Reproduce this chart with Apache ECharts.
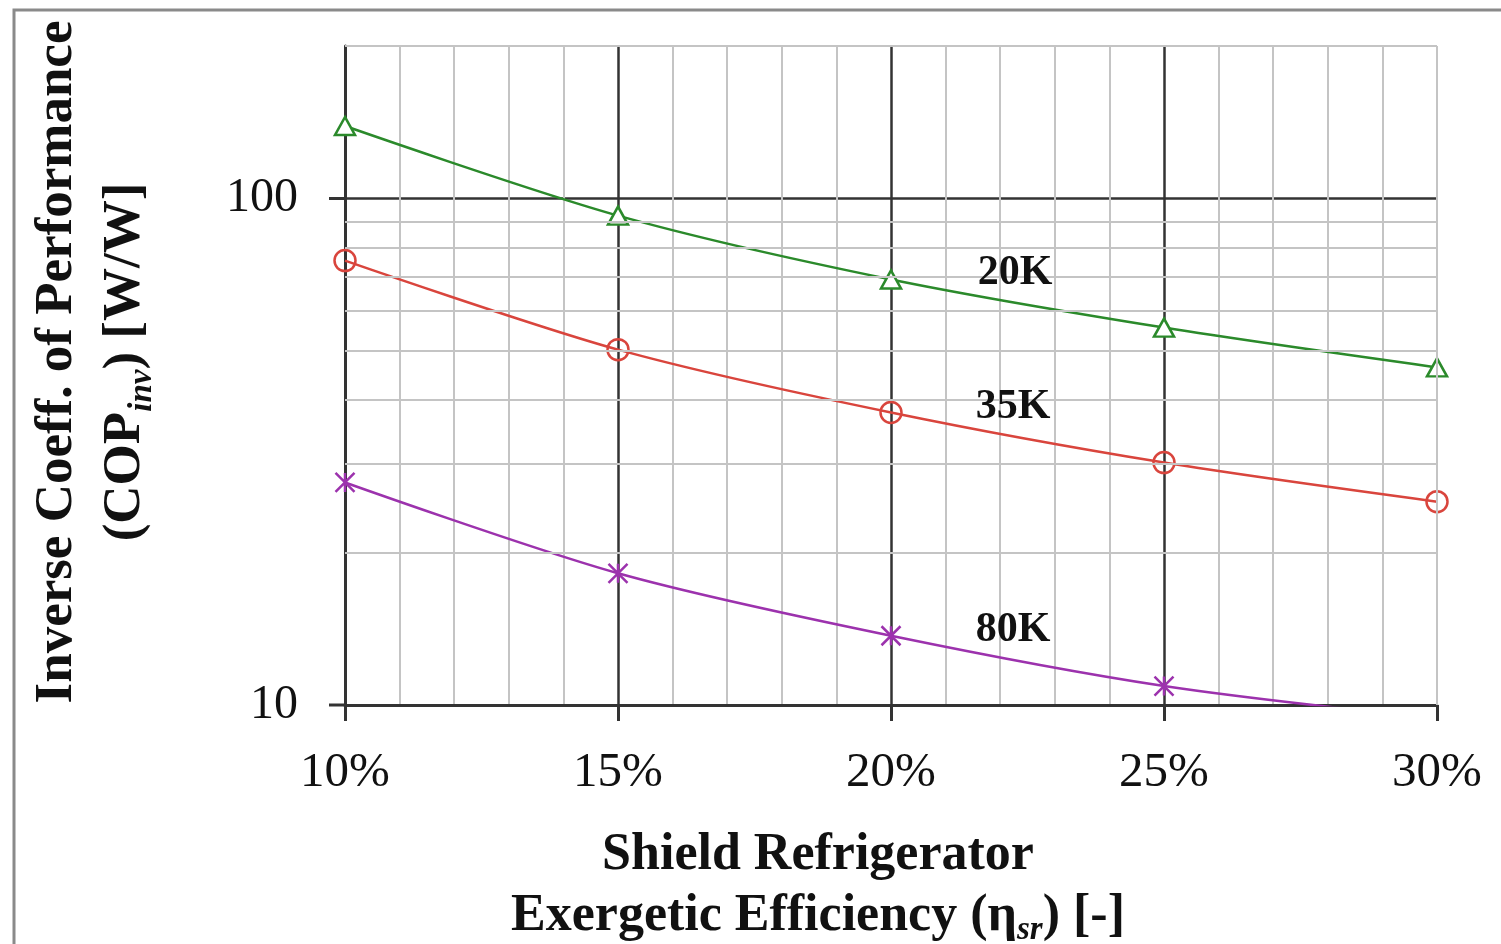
<!DOCTYPE html>
<html>
<head>
<meta charset="utf-8">
<script src="https://cdn.jsdelivr.net/npm/echarts@6/dist/echarts.min.js"></script>
<style>
html,body{margin:0;padding:0;background:#fff;}
#c{width:1501px;height:944px;}
</style>
</head>
<body>
<div id="c"></div>
<script>
const efficiency = [10, 15, 20, 25, 30];
const cop20K = [139, 92.5, 69.2, 55.6, 46.4];
const cop35K = [75.4, 50.3, 37.8, 30.1, 25.2];
const cop80K = [27.5, 18.2, 13.7, 10.9, 9.4];
const minorYLines = [20, 30, 40, 50, 60, 70, 80, 90, 200];
const yTickValues = [10, 100];
const seriesNames = ['20K', '35K', '80K'];

const SERIF = '"Liberation Serif", "Times New Roman", serif';
const GRID_GRAY = '#c4c4c4';
const DARK = '#333333';

function pairs(vals) { return efficiency.map((x, i) => [x, vals[i]]); }

const chart = echarts.init(document.getElementById('c'), null, {renderer: 'canvas'});
const baseGraphic = [
  {type: 'rect', shape: {x: 14, y: 10, width: 1600, height: 1000}, silent: true, z: -10,
    style: {fill: 'none', stroke: '#8a8a8a', lineWidth: 3}},
  {type: 'text', x: 1015, y: 273, z: 10,
    style: {text: seriesNames[0], font: 'bold 42px ' + SERIF, fill: '#111', align: 'center', verticalAlign: 'middle'}},
  {type: 'text', x: 1013, y: 407, z: 10,
    style: {text: seriesNames[1], font: 'bold 42px ' + SERIF, fill: '#111', align: 'center', verticalAlign: 'middle'}},
  {type: 'text', x: 1013, y: 630, z: 10,
    style: {text: seriesNames[2], font: 'bold 42px ' + SERIF, fill: '#111', align: 'center', verticalAlign: 'middle'}},
  {type: 'text', x: 818, y: 886, z: 10,
    style: {
      text: '{b|Shield Refrigerator}\n{b|Exergetic Efficiency (η}{s|sr}{b|) [-]}',
      align: 'center', verticalAlign: 'middle', fill: '#111',
      rich: {
        b: {fontFamily: SERIF, fontWeight: 'bold', fontSize: 52, lineHeight: 61, fill: '#111', align: 'center'},
        s: {fontFamily: SERIF, fontWeight: 'bold', fontStyle: 'italic', fontSize: 33, lineHeight: 30, verticalAlign: 'bottom', fill: '#111'}
      }
    }},
  {type: 'text', x: 91, y: 362, rotation: Math.PI / 2, z: 10,
    style: {
      text: '{b|Inverse Coeff. of Performance}\n{b|(COP}{s|inv}{b|) [W/W]}',
      align: 'center', verticalAlign: 'middle', fill: '#111',
      rich: {
        b: {fontFamily: SERIF, fontWeight: 'bold', fontSize: 53, lineHeight: 68, fill: '#111', align: 'center'},
        s: {fontFamily: SERIF, fontWeight: 'bold', fontStyle: 'italic', fontSize: 33, lineHeight: 34, verticalAlign: 'bottom', fill: '#111'}
      }
    }}
];

const option = {
  animation: false,
  backgroundColor: '#ffffff',
  grid: {left: 345, right: 64, top: 46, bottom: 239, containLabel: false},
  xAxis: {
    type: 'value', min: 10, max: 30, interval: 5,
    axisLine: {show: true, onZero: false, lineStyle: {color: DARK, width: 3}},
    axisTick: {show: true, inside: false, length: 16, lineStyle: {color: DARK, width: 3}},
    axisLabel: {formatter: '{value}%', color: '#111', fontFamily: SERIF, fontSize: 49, margin: 44},
    splitLine: {show: true, showMinLine: false, showMaxLine: false, lineStyle: {color: DARK, width: 2.5}},
    minorTick: {show: false, splitNumber: 5},
    minorSplitLine: {show: true, lineStyle: {color: GRID_GRAY, width: 2}}
  },
  yAxis: {
    type: 'log', logBase: 10, min: 10, max: 200,
    axisLine: {show: true, lineStyle: {color: DARK, width: 3}},
    axisTick: {show: false},
    axisLabel: {
      color: '#111', fontFamily: SERIF, fontSize: 48, margin: 47,
      formatter: v => yTickValues.some(t => Math.abs(v - t) < 1e-6) ? String(Math.round(v)) : ''
    },
    splitLine: {show: true, showMinLine: false, showMaxLine: false, lineStyle: {color: DARK, width: 2.5}},
    minorTick: {show: false},
    minorSplitLine: {show: false}
  },
  series: [
    {
      name: 'gridlines', type: 'line', data: [], z: 1, silent: true,
      markLine: {
        silent: true, symbol: ['none', 'none'], animation: false,
        label: {show: false},
        lineStyle: {color: GRID_GRAY, width: 2, type: 'solid'},
        data: minorYLines.map(v => ({yAxis: v})).concat([{xAxis: 30}])
      }
    },
    {
      name: seriesNames[0], type: 'line', data: pairs(cop20K), smooth: 0.3, z: 3,
      symbol: 'triangle', symbolSize: [20, 18],
      lineStyle: {color: '#2b8a2b', width: 2.5},
      itemStyle: {color: '#ffffff', borderColor: '#2b8a2b', borderWidth: 2.5}
    },
    {
      name: seriesNames[1], type: 'line', data: pairs(cop35K), smooth: 0.3, z: 3,
      symbol: 'circle', symbolSize: 21,
      lineStyle: {color: '#d9453d', width: 2.5},
      itemStyle: {color: 'rgba(255,255,255,0)', borderColor: '#d9453d', borderWidth: 2.5}
    },
    {
      name: seriesNames[2], type: 'line', data: pairs(cop80K), smooth: 0.3, z: 3, clip: true,
      symbol: 'path://M0,0L10,10M10,0L0,10M5,0L5,10', symbolSize: 19,
      lineStyle: {color: '#9c32ad', width: 2.5},
      itemStyle: {color: 'rgba(0,0,0,0)', borderColor: '#9c32ad', borderWidth: 2.5}
    }
  ],
  graphic: baseGraphic
};
chart.setOption(option);

// y-axis ticks only at labelled decades, placed through the axis scale
const tickGraphics = yTickValues.map(v => {
  const p = chart.convertToPixel({xAxisIndex: 0, yAxisIndex: 0}, [10, v]);
  return {type: 'line', z: 5, silent: true,
    shape: {x1: p[0] - 16, y1: p[1], x2: p[0], y2: p[1]},
    style: {stroke: DARK, lineWidth: 3}};
});
chart.setOption({graphic: baseGraphic.concat(tickGraphics)});
</script>
</body>
</html>
